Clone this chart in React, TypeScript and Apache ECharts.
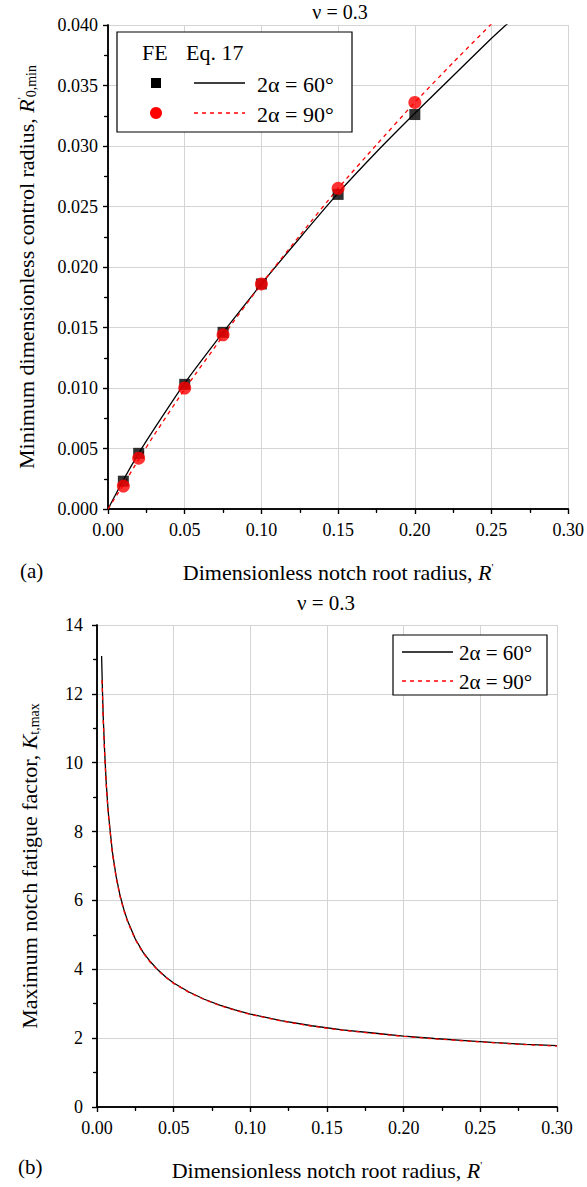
import React, { useEffect, useRef } from "react";
import * as echarts from "echarts";

// ---- Data (a): minimum dimensionless control radius ----
const feR = [0.01, 0.02, 0.05, 0.075, 0.1, 0.15, 0.2];
const fe60 = [0.0023, 0.0046, 0.0103, 0.0146, 0.0186, 0.026, 0.0326];
const fe90 = [0.0019, 0.0042, 0.01, 0.0144, 0.0186, 0.0265, 0.0336];

const eqR60 = [0, 0.01, 0.02, 0.03, 0.05, 0.075, 0.1, 0.125, 0.15, 0.175, 0.2, 0.225, 0.25, 0.262];
const eq60 = [0, 0.0024, 0.0046, 0.0066, 0.0104, 0.0146, 0.0186, 0.0224, 0.0261, 0.0295, 0.0327, 0.0358, 0.0389, 0.0403];
const eqR90 = [0, 0.01, 0.02, 0.03, 0.05, 0.075, 0.1, 0.125, 0.15, 0.175, 0.2, 0.225, 0.25];
const eq90 = [0, 0.002, 0.0041, 0.0061, 0.0099, 0.0143, 0.0186, 0.0226, 0.0265, 0.0301, 0.0336, 0.0369, 0.0401];

// ---- Data (b): maximum notch fatigue factor ----
const ktR60 = [0.003, 0.0035, 0.004, 0.005, 0.006, 0.007, 0.0075, 0.01, 0.0125, 0.015, 0.0175, 0.02, 0.025, 0.03, 0.035, 0.04, 0.045, 0.05, 0.06, 0.07, 0.08, 0.09, 0.1, 0.12, 0.14, 0.16, 0.18, 0.2, 0.22, 0.24, 0.26, 0.28, 0.3];
const kt60 = [13.1, 12.2, 11.4, 10.3, 9.43, 8.77, 8.49, 7.42, 6.69, 6.15, 5.74, 5.4, 4.88, 4.5, 4.21, 3.97, 3.77, 3.6, 3.34, 3.13, 2.96, 2.82, 2.7, 2.51, 2.36, 2.24, 2.15, 2.06, 1.99, 1.93, 1.87, 1.82, 1.78];
const ktR90 = [0.0033, 0.004, 0.005, 0.006, 0.007, 0.0075, 0.01, 0.0125, 0.015, 0.0175, 0.02, 0.025, 0.03, 0.035, 0.04, 0.045, 0.05, 0.06, 0.07, 0.08, 0.09, 0.1, 0.12, 0.14, 0.16, 0.18, 0.2, 0.22, 0.24, 0.26, 0.28, 0.3];
const kt90 = [12.4, 11.3, 10.22, 9.37, 8.72, 8.45, 7.38, 6.66, 6.12, 5.71, 5.37, 4.86, 4.48, 4.19, 3.96, 3.76, 3.59, 3.33, 3.12, 2.95, 2.81, 2.69, 2.5, 2.35, 2.23, 2.14, 2.05, 1.98, 1.92, 1.86, 1.81, 1.77];

const xTicks = { min: 0, max: 0.3, interval: 0.05 };
const yTicksA = { min: 0, max: 0.04, interval: 0.005 };
const yTicksB = { min: 0, max: 14, interval: 2 };

const FONT = "'Liberation Serif', 'Times New Roman', serif";

const zip = (xs: number[], ys: number[]) => xs.map((x, i) => [x, ys[i]]);

export default function App() {
  const ref = useRef<HTMLDivElement>(null);
  useEffect(() => {
    if (!ref.current) return;
    const chart = echarts.init(ref.current, null, { renderer: "svg" });
    const axisLine = { show: true, lineStyle: { color: "#000", width: 1.5 } };
    const grid = { show: true, lineStyle: { color: "#d4d4d4", width: 1 } };
    const nameRich = {
      i: { fontFamily: FONT, fontStyle: "italic", fontSize: 22, color: "#000" },
      sup: { fontFamily: FONT, fontSize: 11, color: "#000", verticalAlign: "top", padding: [0, 0, 11, 0] },
      sub: { fontFamily: FONT, fontSize: 14, color: "#000", verticalAlign: "bottom", padding: [9, 0, 0, 0] },
    };
    const tickLabel = { fontFamily: FONT, fontSize: 18, color: "#000" };
    const mainX = (gridIndex: number) => ({
      type: "value",
      gridIndex,
      ...xTicks,
      position: "bottom",
      axisLine,
      axisTick: { show: true, length: 5, lineStyle: { color: "#000", width: 1.2 } },
      minorTick: { show: true, splitNumber: 2, length: 4, lineStyle: { color: "#000", width: 1.2 } },
      splitLine: grid,
      axisLabel: {
        ...tickLabel,
        margin: 12,
        formatter: (v: number) => v.toFixed(2),
      },
      name: "Dimensionless notch root radius, {i|R}{sup|'}",
      nameLocation: "middle",
      nameGap: 52,
      nameTextStyle: { fontFamily: FONT, fontSize: 22, color: "#000", rich: nameRich },
    });
    const topX = (gridIndex: number) => ({
      type: "value",
      gridIndex,
      ...xTicks,
      position: "top",
      axisLine,
      axisTick: { show: true, inside: true, length: 5, lineStyle: { color: "#000", width: 1.2 } },
      minorTick: { show: true, splitNumber: 2, length: 3, lineStyle: { color: "#000", width: 1.2 } },
      splitLine: { show: false },
      axisLabel: { show: false },
    });
    const rightY = (gridIndex: number, t: any) => ({
      type: "value",
      gridIndex,
      ...t,
      position: "right",
      axisLine,
      axisTick: { show: true, inside: true, length: 5, lineStyle: { color: "#000", width: 1.2 } },
      minorTick: { show: true, splitNumber: 2, length: 3, lineStyle: { color: "#000", width: 1.2 } },
      splitLine: { show: false },
      axisLabel: { show: false },
    });
    const txt = (text: string, x: number, y: number, size: number, extra: any = {}) => ({
      type: "text",
      x,
      y,
      z: 11,
      style: { text, fontFamily: FONT, fontSize: size, fill: "#000", verticalAlign: "middle", ...extra },
    });
    const option: any = {
      animation: false,
      backgroundColor: "#fff",
      textStyle: { fontFamily: FONT },
      grid: [
        { left: 108, right: 17, top: 25, height: 484, containLabel: false },
        { left: 97, right: 30, top: 625, height: 482, containLabel: false },
      ],
      xAxis: [mainX(0), topX(0), mainX(1), topX(1)],
      yAxis: [
        {
          type: "value",
          gridIndex: 0,
          ...yTicksA,
          axisLine,
          axisTick: { show: true, length: 5, lineStyle: { color: "#000", width: 1.2 } },
          minorTick: { show: true, splitNumber: 2, length: 4, lineStyle: { color: "#000", width: 1.2 } },
          splitLine: grid,
          axisLabel: {
            ...tickLabel,
            margin: 10,
            formatter: (v: number) => v.toFixed(3),
          },
          name: "Minimum dimensionless control radius, {i|R}{sup|'}{sub|0,min}",
          nameLocation: "middle",
          nameGap: 70,
          nameTextStyle: { fontFamily: FONT, fontSize: 22, color: "#000", rich: nameRich },
        },
        rightY(0, yTicksA),
        {
          type: "value",
          gridIndex: 1,
          ...yTicksB,
          axisLine,
          axisTick: { show: true, length: 5, lineStyle: { color: "#000", width: 1.2 } },
          minorTick: { show: true, splitNumber: 2, length: 4, lineStyle: { color: "#000", width: 1.2 } },
          splitLine: grid,
          axisLabel: { ...tickLabel, margin: 14 },
          name: "Maximum notch fatigue factor, {i|K}{sub|t,max}",
          nameLocation: "middle",
          nameGap: 56,
          nameTextStyle: { fontFamily: FONT, fontSize: 22, color: "#000", rich: nameRich },
        },
        rightY(1, yTicksB),
      ],
      series: [
        {
          type: "line",
          xAxisIndex: 0,
          yAxisIndex: 0,
          data: zip(eqR60, eq60),
          showSymbol: false,
          smooth: 0.2,
          clip: true,
          lineStyle: { color: "#000", width: 1.3 },
          z: 3,
        },
        {
          type: "line",
          xAxisIndex: 0,
          yAxisIndex: 0,
          data: zip(eqR90, eq90),
          showSymbol: false,
          smooth: 0.2,
          clip: true,
          lineStyle: { color: "#ff0000", width: 1.3, type: [4, 4] },
          z: 3,
        },
        {
          type: "scatter",
          xAxisIndex: 0,
          yAxisIndex: 0,
          data: zip(feR, fe60),
          symbol: "rect",
          symbolSize: 11,
          itemStyle: { color: "#000" },
          z: 4,
        },
        {
          type: "scatter",
          xAxisIndex: 0,
          yAxisIndex: 0,
          data: zip(feR, fe90),
          symbol: "circle",
          symbolSize: 13,
          itemStyle: { color: "#ff0000" },
          z: 5,
        },
        {
          type: "line",
          xAxisIndex: 2,
          yAxisIndex: 2,
          data: zip(ktR60, kt60),
          showSymbol: false,
          smooth: false,
          lineStyle: { color: "#000", width: 1.3 },
          z: 3,
        },
        {
          type: "line",
          xAxisIndex: 2,
          yAxisIndex: 2,
          data: zip(ktR90, kt90),
          showSymbol: false,
          smooth: false,
          lineStyle: { color: "#ff0000", width: 1.3, type: [4, 4] },
          z: 4,
        },
      ],
      graphic: [
        // titles
        txt("ν = 0.3", 340, 12, 20, { align: "center" }),
        txt("ν = 0.3", 326, 603, 21, { align: "center" }),
        txt("(a)", 20, 571, 21),
        txt("(b)", 18, 1167, 21),
        // legend (a)
        { type: "rect", shape: { x: 117, y: 32, width: 235, height: 100 }, style: { fill: "#fff", stroke: "#000", lineWidth: 1.2 }, z: 10 },
        txt("FE", 142, 52, 22),
        txt("Eq. 17", 186, 52, 22),
        { type: "rect", shape: { x: 151, y: 78, width: 10, height: 10 }, style: { fill: "#000" }, z: 11 },
        { type: "line", shape: { x1: 194, y1: 83, x2: 245, y2: 83 }, style: { stroke: "#000", lineWidth: 1.3 }, z: 11 },
        txt("2α = 60°", 257, 84, 22),
        { type: "circle", shape: { cx: 156, cy: 113, r: 6 }, style: { fill: "#ff0000" }, z: 11 },
        { type: "line", shape: { x1: 194, y1: 113, x2: 245, y2: 113 }, style: { stroke: "#ff0000", lineWidth: 1.3, lineDash: [4, 4] }, z: 11 },
        txt("2α = 90°", 257, 114, 22),
        // legend (b)
        { type: "rect", shape: { x: 393, y: 635, width: 154, height: 60 }, style: { fill: "#fff", stroke: "#000", lineWidth: 1.2 }, z: 10 },
        { type: "line", shape: { x1: 402, y1: 652, x2: 453, y2: 652 }, style: { stroke: "#000", lineWidth: 1.3 }, z: 11 },
        txt("2α = 60°", 459, 653, 21),
        { type: "line", shape: { x1: 402, y1: 681, x2: 453, y2: 681 }, style: { stroke: "#ff0000", lineWidth: 1.3, lineDash: [4, 4] }, z: 11 },
        txt("2α = 90°", 459, 682, 21),
      ],
    };
    chart.setOption(option);
    return () => chart.dispose();
  }, []);
  return (
    <div
      ref={ref}
      style={{ position: "absolute", left: 0, top: 0, width: 587, height: 1187, background: "#fff" }}
    />
  );
}
